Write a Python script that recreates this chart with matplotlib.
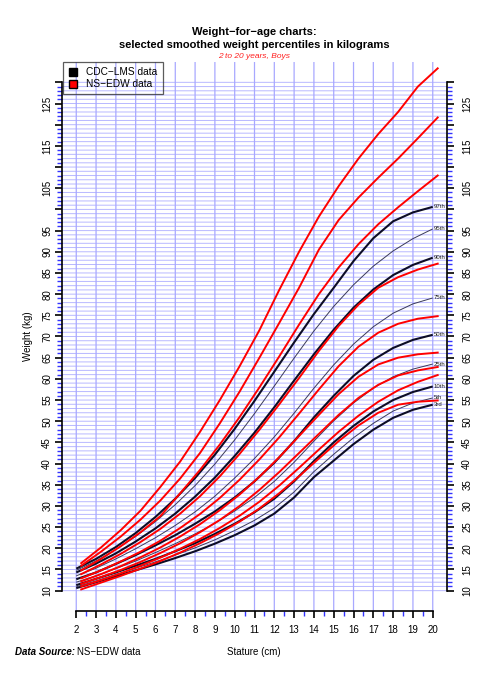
import matplotlib
matplotlib.use("Agg")
import matplotlib.pyplot as plt
import numpy as np
from matplotlib.lines import Line2D

plt.rcParams['font.family'] = ['Liberation Sans', 'DejaVu Sans']

# ---------------- data ----------------
ages_cdc = list(range(2, 21))
cdc_p3 = [10.6, 12.0, 13.4, 14.8, 16.2, 17.7, 19.3, 21.1, 23.1, 25.4, 28.2, 32.0, 36.8, 40.7, 44.6, 48.0, 50.8, 52.7, 53.9]
cdc_p5 = [10.9, 12.3, 13.8, 15.3, 16.8, 18.4, 20.1, 22.0, 24.2, 26.6, 29.5, 33.3, 38.1, 42.2, 46.1, 49.5, 52.4, 54.3, 55.5]
cdc_p10 = [11.3, 12.8, 14.3, 15.9, 17.5, 19.3, 21.2, 23.4, 25.8, 28.5, 31.7, 35.8, 40.6, 45.0, 48.9, 52.3, 55.0, 56.9, 58.2]
cdc_p25 = [12.0, 13.5, 15.2, 17.0, 19.0, 21.1, 23.4, 25.9, 28.8, 32.0, 35.8, 40.3, 45.3, 50.1, 54.3, 57.8, 60.5, 62.3, 63.5]
cdc_p50 = [12.7, 14.3, 16.3, 18.4, 20.7, 23.1, 25.8, 28.7, 32.0, 35.8, 40.2, 45.3, 50.9, 56.0, 60.7, 64.5, 67.3, 69.2, 70.4]
cdc_p75 = [13.5, 15.3, 17.5, 19.9, 22.5, 25.4, 28.6, 32.3, 36.6, 41.2, 46.3, 51.9, 57.8, 63.3, 68.2, 72.3, 75.5, 77.7, 79.1]
cdc_p90 = [14.3, 16.4, 18.8, 21.6, 24.7, 28.2, 32.2, 36.7, 41.8, 47.3, 53.3, 59.6, 65.8, 71.6, 76.8, 81.1, 84.5, 86.9, 88.6]
cdc_p95 = [14.8, 17.0, 19.7, 22.8, 26.3, 30.3, 34.8, 39.9, 45.6, 51.8, 58.3, 64.9, 71.3, 77.1, 82.2, 86.6, 90.2, 93.1, 95.4]
cdc_p97 = [15.2, 17.5, 20.3, 23.6, 27.4, 31.7, 36.6, 42.1, 48.2, 54.8, 61.7, 68.6, 75.3, 81.5, 87.8, 93.2, 97.2, 99.3, 100.6]
cdc_labels = ["3rd", "5th", "10th", "25th", "50th", "75th", "90th", "95th", "97th"]

ages_ns = [a + 0.25 for a in range(2, 21)]
ns_1 = [16.5, 20.2, 24.3, 28.9, 34.5, 40.5, 47.5, 55.0, 63.0, 71.5, 81.0, 90.0, 98.3, 105.5, 112.0, 117.8, 123.0, 129.0, 133.3]
ns_2 = [15.9, 19.2, 22.8, 26.8, 31.3, 36.5, 42.5, 49.5, 57.0, 65.0, 73.2, 81.5, 90.5, 97.5, 102.8, 107.5, 112.0, 116.8, 121.7]
ns_3 = [14.8, 17.5, 20.5, 23.8, 27.6, 33.0, 38.5, 44.5, 51.0, 58.0, 65.3, 72.8, 80.0, 86.3, 91.8, 96.5, 100.5, 104.3, 108.0]
ns_4 = [13.9, 16.2, 18.7, 21.5, 24.6, 28.2, 32.3, 37.0, 42.3, 48.0, 54.0, 60.2, 66.6, 72.5, 77.5, 81.5, 84.0, 85.8, 87.2]
ns_5 = [12.9, 14.8, 16.9, 19.2, 21.8, 24.8, 28.1, 31.9, 36.2, 41.0, 46.2, 51.8, 57.5, 63.0, 67.6, 70.9, 73.0, 74.2, 74.8]
ns_6 = [12.2, 13.9, 15.8, 17.9, 20.2, 22.8, 25.7, 29.0, 32.7, 36.9, 41.5, 46.5, 51.5, 56.4, 60.5, 63.4, 65.0, 65.8, 66.2]
ns_7 = [11.6, 13.2, 14.9, 16.8, 18.9, 21.2, 23.8, 26.7, 30.0, 33.8, 38.0, 42.5, 47.0, 51.5, 55.5, 58.6, 60.8, 62.0, 62.8]
ns_8 = [11.0, 12.5, 14.1, 15.9, 17.8, 19.9, 22.2, 24.8, 27.7, 31.0, 34.8, 39.0, 43.3, 47.5, 51.3, 54.6, 57.3, 59.3, 60.9]
ns_9 = [10.3, 11.9, 13.5, 15.2, 17.0, 19.0, 21.2, 23.6, 26.3, 29.4, 33.0, 37.0, 41.2, 45.3, 49.0, 52.0, 53.9, 54.6, 54.9]

x_ticks = list(range(2, 21))
y_major = list(range(10, 131, 5))
y_labels_shown = [10, 15, 20, 25, 30, 35, 40, 45, 50, 55, 60, 65, 70, 75, 80, 85, 90, 95, 105, 115, 125]

# ---------------- figure ----------------
W, H = 485, 685
fig = plt.figure(figsize=(W / 100, H / 100), dpi=100)
ax = fig.add_axes([62 / W, 1 - 611 / H, (447 - 62) / W, (611 - 62) / H])
ax.set_xlim(1.28, 20.72)
ax.set_ylim(5.2, 134.8)

for yv in range(10, 131):
    ax.axhline(yv, color='#b8b8ff', lw=0.7, zorder=0, snap=False)
for xv in x_ticks:
    ax.axvline(xv, color='#a8a8ff', lw=0.9, zorder=0, snap=False)

cdc = [cdc_p3, cdc_p5, cdc_p10, cdc_p25, cdc_p50, cdc_p75, cdc_p90, cdc_p95, cdc_p97]
for lab, ser in zip(cdc_labels, cdc):
    thick = lab in ("3rd", "10th", "50th", "90th", "97th")
    ax.plot(ages_cdc, ser, color='#0d0d26' if thick else '#3a3a5a',
            lw=1.5 if thick else 0.7, solid_capstyle='butt', zorder=3)
    ax.text(ages_cdc[-1] + 0.03, ser[-1], lab, fontsize=4.3, va='center', ha='left',
            color='#222222', zorder=5)

for ser in [ns_1, ns_2, ns_3, ns_4, ns_5, ns_6, ns_7, ns_8, ns_9]:
    ax.plot(ages_ns, ser, color='#ff0000', lw=1.4, zorder=4, clip_on=False)

# spines
ax.spines['top'].set_visible(False)
ax.spines['right'].set_visible(False)
ax.spines['left'].set_bounds(10, 130)
ax.spines['bottom'].set_bounds(2, 20)
for s in ('left', 'bottom'):
    ax.spines[s].set_linewidth(1.2)

ax.set_xticks(x_ticks)
ax.set_xticklabels([str(v) for v in x_ticks])
ax.set_xticks([v + 0.5 for v in x_ticks[:-1]], minor=True)

ylabs = [str(v) if v in y_labels_shown else '' for v in y_major]
ax.set_yticks(y_major)
ax.set_yticklabels(ylabs, rotation=90, va='center')
ax.set_yticks([v for v in range(10, 131) if v % 5 != 0], minor=True)
ax.tick_params(axis='both', which='major', length=5, width=1.2, color='black', labelsize=7)
ax.tick_params(axis='both', which='minor', length=3.5, width=1.0, color='#3333ff')
ax.tick_params(axis='y', which='major', pad=2)
ax.tick_params(axis='x', which='major', pad=5)

# right axis
ax2 = ax.twinx()
ax2.set_ylim(ax.get_ylim())
for s in ('top', 'left', 'bottom'):
    ax2.spines[s].set_visible(False)
ax2.spines['right'].set_bounds(10, 130)
ax2.spines['right'].set_linewidth(1.2)
ax2.set_yticks(y_major)
ax2.set_yticklabels(ylabs, rotation=90, va='center')
ax2.set_yticks([v for v in range(10, 131) if v % 5 != 0], minor=True)
ax2.tick_params(axis='y', which='major', length=5, width=1.2, color='black', labelsize=7, pad=6)
ax2.tick_params(axis='y', which='minor', length=3.5, width=1.0, color='#3333ff')

ax.set_ylabel('Weight (kg)', fontsize=7, labelpad=7)

# legend
handles = [Line2D([], [], marker='s', ls='none', color='black', markeredgecolor='black', markersize=6),
           Line2D([], [], marker='s', ls='none', color='#ff0000', markeredgecolor='black', markersize=6)]
leg = ax.legend(handles, ['CDC−LMS data', 'NS−EDW data'], loc='upper left', bbox_to_anchor=(0.003, 1.0),
                borderaxespad=0, frameon=True, fancybox=False, fontsize=7.3, handlelength=1.0,
                handletextpad=0.8, borderpad=0.5, labelspacing=0.2)
leg.get_frame().set_edgecolor('#333333')
leg.get_frame().set_facecolor('none')
leg.get_frame().set_linewidth(0.9)
leg.set_zorder(10)

# titles
fig.text(254 / W, 1 - 32 / H, 'Weight−for−age charts:', ha='center', va='center', fontsize=8, fontweight='bold')
fig.text(254 / W, 1 - 45 / H, 'selected smoothed weight percentiles in kilograms', ha='center', va='center',
         fontsize=8, fontweight='bold')
fig.text(254 / W, 1 - 57 / H, '2 to 20 years, Boys', ha='center', va='center', fontsize=6, style='italic',
         color='#ff2020')

fig.text(254 / W, 1 - 652 / H, 'Stature (cm)', ha='center', va='center', fontsize=7)
fig.text(15 / W, 1 - 652 / H, 'Data Source:', ha='left', va='center', fontsize=7, fontweight='bold',
         style='italic')
fig.text(77 / W, 1 - 652 / H, 'NS−EDW data', ha='left', va='center', fontsize=7)

fig.savefig('out.png', dpi=100)
